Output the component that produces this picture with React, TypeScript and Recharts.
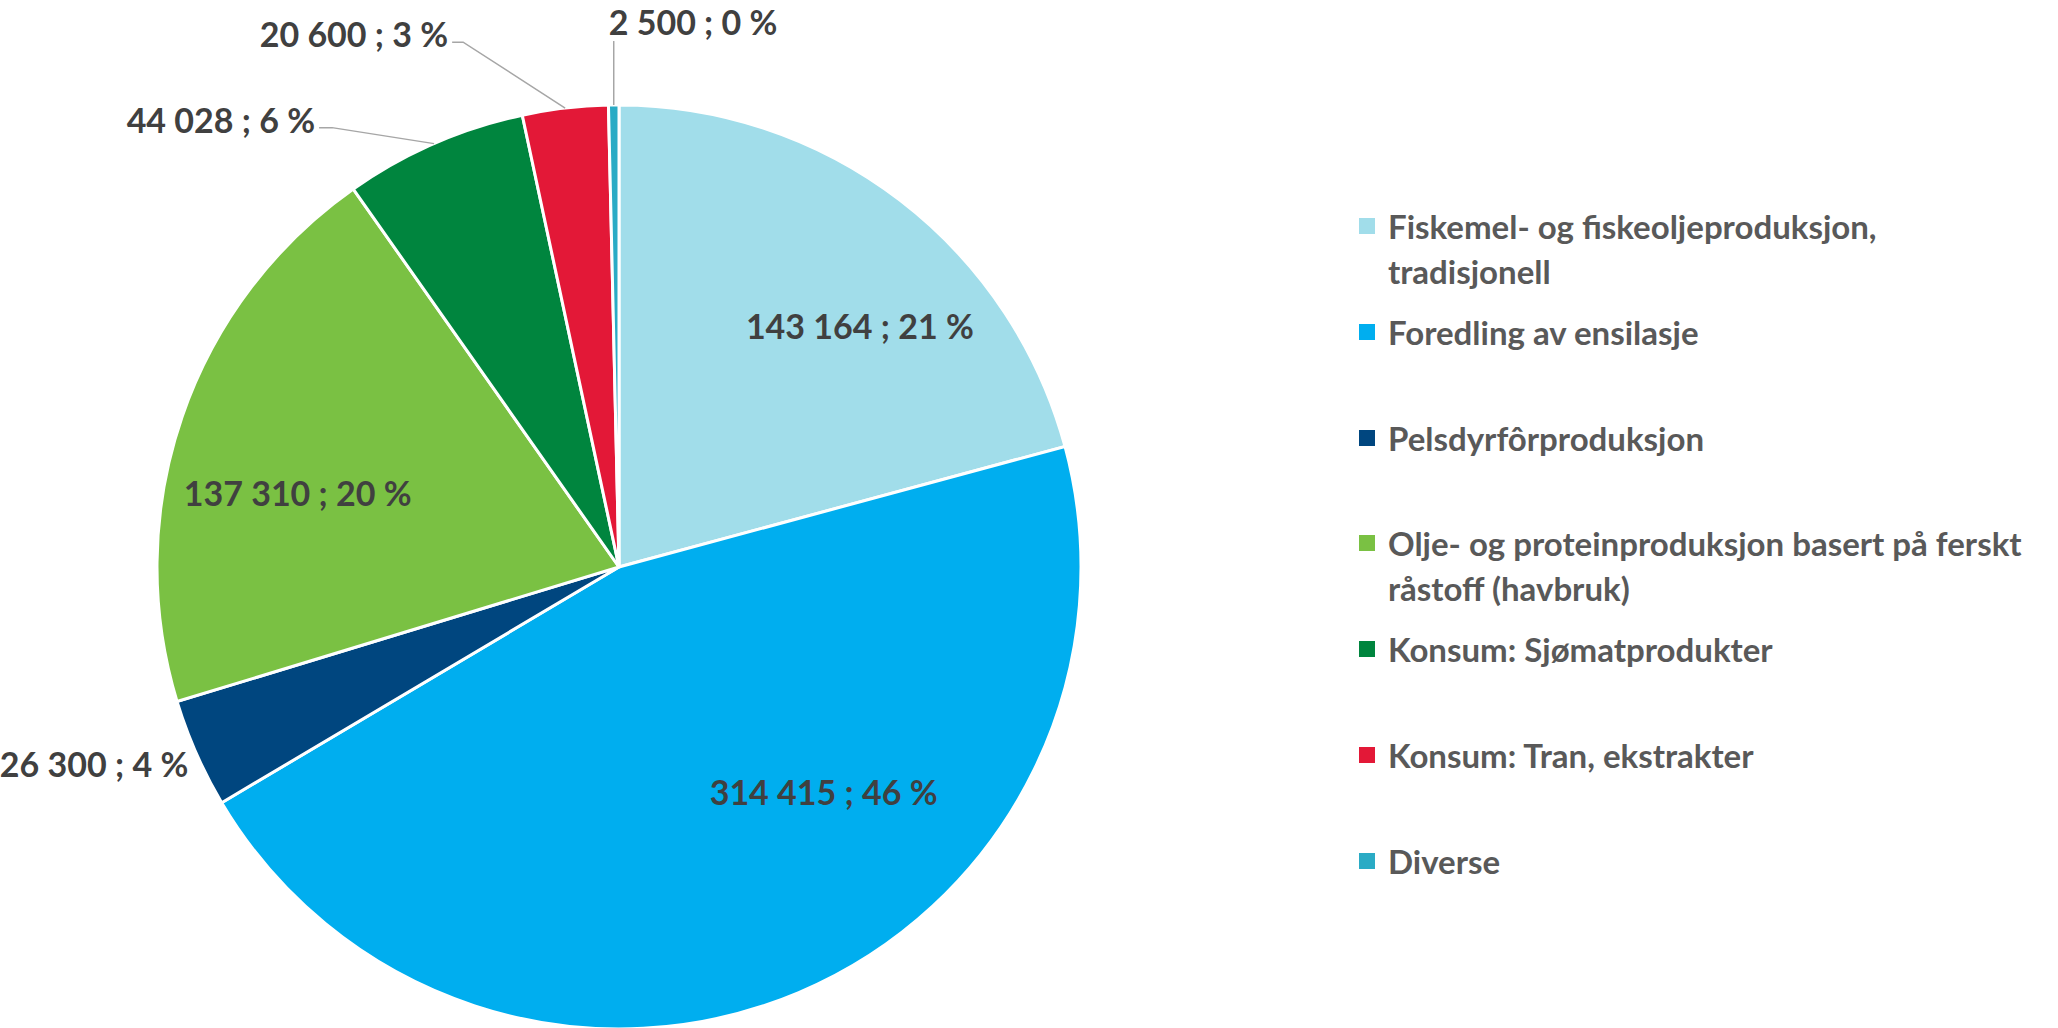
import React from 'react';
import { PieChart, Pie, Cell, Legend } from 'recharts';

const categories = [
  'Fiskemel- og fiskeoljeproduksjon,\ntradisjonell',
  'Foredling av ensilasje',
  'Pelsdyrfôrproduksjon',
  'Olje- og proteinproduksjon basert på ferskt\nråstoff (havbruk)',
  'Konsum: Sjømatprodukter',
  'Konsum: Tran, ekstrakter',
  'Diverse',
];
const tonnes = [143164, 314415, 26300, 137310, 44028, 20600, 2500];
const colors = ['#A1DDEA', '#00AEEF', '#00467F', '#7AC143', '#00853E', '#E31837', '#2AABC5'];

const data = categories.map((name, i) => ({ name, value: tonnes[i], fill: colors[i] }));

const FONT = "Lato, 'Open Sans', sans-serif";
const RAD = Math.PI / 180;

// where each data label goes (inside / beside / with leader line)
const placement: any[] = [
  { kind: 'in', dAngle: 7.5, rf: 0.738 },
  { kind: 'in', dAngle: -19.4, rf: 0.658 },
  { kind: 'side', dx: -8, dy: 10 },
  { kind: 'in', dAngle: -5.9, rf: 0.714 },
  { kind: 'leader', ex: -102, ey: -16, tail: -13, ty: -8 },
  { kind: 'leader', ex: -102, ey: -66, tail: -11, ty: -9 },
  { kind: 'up', ey: -64 },
];

const fmt = (v: number) => Math.round(v).toString().replace(/\B(?=(\d{3})+(?!\d))/g, ' ');

const renderLabel = (props: any) => {
  const { cx, cy, midAngle, outerRadius, value, percent, index } = props;
  const p = placement[index];
  const text = `${fmt(value)} ; ${Math.round(percent * 100)} %`;
  const style = { fontFamily: FONT, fontWeight: 700, fontSize: 34, fill: '#404040' };
  const ex = cx + outerRadius * Math.cos(-midAngle * RAD);
  const ey = cy + outerRadius * Math.sin(-midAngle * RAD);
  if (p.kind === 'in') {
    const a = midAngle - p.dAngle;
    const r = outerRadius * p.rf;
    const x = cx + r * Math.cos(-a * RAD);
    const y = cy + r * Math.sin(-a * RAD);
    return (
      <text x={x} y={y} textAnchor="middle" dominantBaseline="central" style={style}>
        {text}
      </text>
    );
  }
  if (p.kind === 'side') {
    return (
      <text x={ex + p.dx} y={ey + p.dy} textAnchor="end" dominantBaseline="central" style={style}>
        {text}
      </text>
    );
  }
  if (p.kind === 'leader') {
    const bx = ex + p.ex;
    const by = ey + p.ey;
    const tx = bx + p.tail;
    return (
      <g>
        <polyline points={`${ex},${ey} ${bx},${by} ${tx},${by}`} fill="none" stroke="#A6A6A6" strokeWidth={1.5} />
        <text x={tx - 4} y={by + p.ty} textAnchor="end" dominantBaseline="central" style={style}>
          {text}
        </text>
      </g>
    );
  }
  const ty = ey + p.ey;
  return (
    <g>
      <line x1={ex} y1={ey} x2={ex} y2={ty} stroke="#A6A6A6" strokeWidth={1.5} />
      <text x={ex - 5} y={ty - 20} textAnchor="start" dominantBaseline="central" style={style}>
        {text}
      </text>
    </g>
  );
};

const renderLegend = () => (
  <div style={{ position: 'relative', fontFamily: FONT, fontWeight: 700, fontSize: 33, color: '#595959' }}>
    {data.map((d, i) => (
      <div
        key={i}
        style={{
          position: 'absolute',
          top: i * 105.8,
          left: 0,
          display: 'flex',
          alignItems: 'flex-start',
          whiteSpace: 'pre',
          lineHeight: '45px',
        }}
      >
        <div style={{ width: 16, height: 16, background: d.fill, marginTop: 14, marginRight: 13, flex: 'none' }} />
        <div>{d.name}</div>
      </div>
    ))}
  </div>
);

export default function App() {
  return (
    <div style={{ width: 2058, height: 1028, background: '#fff', overflow: 'hidden' }}>
      <style>{'body{margin:0}'}</style>
      <PieChart width={2058} height={1028} margin={{ top: 0, right: 0, bottom: 0, left: 0 }}>
        <Pie
          data={data}
          dataKey="value"
          nameKey="name"
          cx={619}
          cy={567}
          outerRadius={462}
          startAngle={90}
          endAngle={-270}
          stroke="#fff"
          strokeWidth={3}
          label={renderLabel}
          labelLine={false}
          isAnimationActive={false}
        >
          {data.map((d, i) => (
            <Cell key={i} fill={d.fill} />
          ))}
        </Pie>
        <Legend
          content={renderLegend}
          wrapperStyle={{ left: 1359, top: 204, width: 699, height: 760 }}
        />
      </PieChart>
    </div>
  );
}
